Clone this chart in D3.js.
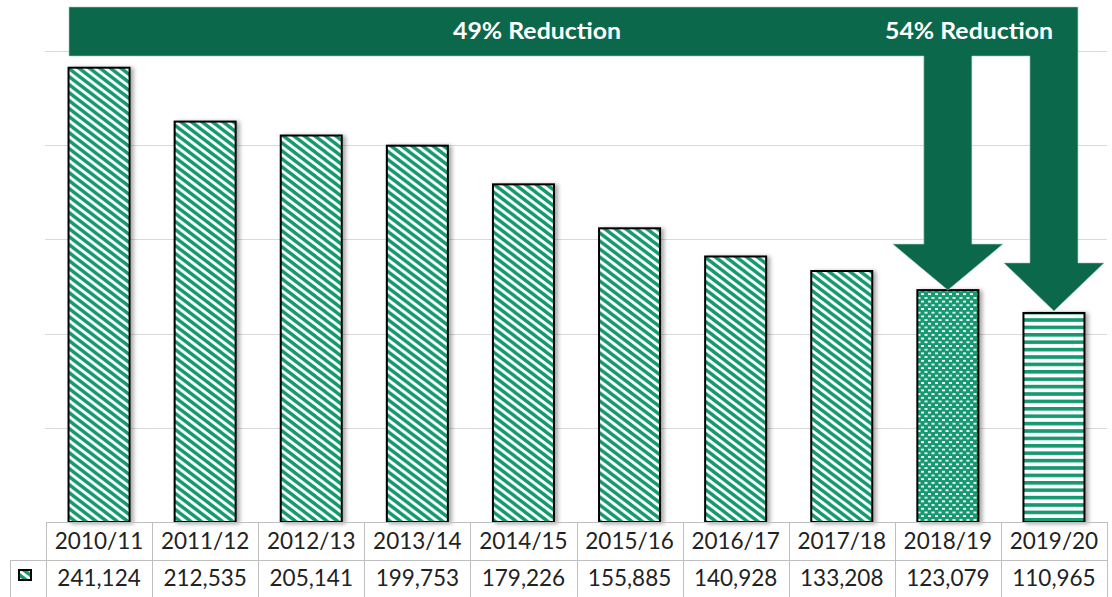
<!DOCTYPE html>
<html lang="en">
<head>
    <meta charset="UTF-8">
    <title>Reduction chart</title>
    <style>
        body { margin: 0; background: #fff; }
        .cell-text { font-family: Lato, "Open Sans", sans-serif; font-size: 22.5px; fill: #222; }
        .banner-text { font-family: Lato, "Open Sans", sans-serif; font-weight: bold; font-size: 23px; fill: #fff; }
    </style>
</head>
<body>
    <svg id="chart" width="1112" height="597"></svg>

    <script src="https://d3js.org/d3.v7.min.js"></script>
    <script>
        // chart data
        const years = ["2010/11", "2011/12", "2012/13", "2013/14", "2014/15", "2015/16", "2016/17", "2017/18", "2018/19", "2019/20"];
        const totals = [241124, 212535, 205141, 199753, 179226, 155885, 140928, 133208, 123079, 110965];
        const gridTicks = [0, 50000, 100000, 150000, 200000, 250000];
        const callouts = ["49% Reduction", "54% Reduction"];

        const svg = d3.select("#chart");
        const green = "#13996f";
        const dark = "#0c684b";

        const x = d3.scaleBand()
            .domain(years)
            .range([46, 1107])
            .paddingInner(0.425)
            .paddingOuter(0.2125);
        const step = x.step();
        const y = d3.scaleLinear().domain([0, 250000]).range([522, 51]);

        const defs = svg.append("defs");

        // wide downward diagonal (stretched sideways like the source)
        const pw = 10.5, ph = 8;
        const diag = defs.append("pattern")
            .attr("id", "diag").attr("patternUnits", "userSpaceOnUse")
            .attr("width", pw).attr("height", ph);
        diag.append("rect").attr("width", pw).attr("height", ph).attr("fill", "#fff");
        diag.append("path")
            .attr("d", [-pw, 0, pw].map(dx => `M${dx - pw},${-ph} L${dx + 2 * pw},${2 * ph}`).join(" "))
            .attr("stroke", green).attr("stroke-width", 3.4);

        // small dotted grid
        const dots = defs.append("pattern")
            .attr("id", "dots").attr("patternUnits", "userSpaceOnUse")
            .attr("width", 7).attr("height", 7.4);
        dots.append("rect").attr("width", 7).attr("height", 7.4).attr("fill", green);
        dots.append("rect").attr("x", 0.5).attr("y", 1).attr("width", 3).attr("height", 1.8).attr("fill", "#fff");
        dots.append("rect").attr("x", 4).attr("y", 4.7).attr("width", 3).attr("height", 1.8).attr("fill", "#fff");

        // wide horizontal
        const horiz = defs.append("pattern")
            .attr("id", "horiz").attr("patternUnits", "userSpaceOnUse")
            .attr("width", 8).attr("height", 7.4);
        horiz.append("rect").attr("width", 8).attr("height", 7.4).attr("fill", "#fff");
        horiz.append("rect").attr("y", 0).attr("width", 8).attr("height", 3.6).attr("fill", green);

        const shadow = defs.append("filter").attr("id", "shadow")
            .attr("x", "-20%").attr("y", "-5%").attr("width", "150%").attr("height", "115%");
        shadow.append("feDropShadow")
            .attr("dx", 3).attr("dy", 1).attr("stdDeviation", 2)
            .attr("flood-color", "#000").attr("flood-opacity", 0.35);

        // gridlines
        svg.append("g")
            .selectAll("line")
            .data(gridTicks.slice(1))
            .join("line")
            .attr("x1", 45).attr("x2", 1107)
            .attr("y1", d => Math.round(y(d)) + 0.5)
            .attr("y2", d => Math.round(y(d)) + 0.5)
            .attr("stroke", "#d9d9d9").attr("stroke-width", 1);

        const fillFor = (d, i) => i === years.length - 1 ? "url(#horiz)" : i === years.length - 2 ? "url(#dots)" : "url(#diag)";

        // bars
        svg.append("g")
            .selectAll("rect")
            .data(totals)
            .join("rect")
            .attr("x", (d, i) => x(years[i]))
            .attr("y", d => y(d))
            .attr("width", x.bandwidth())
            .attr("height", d => y(0) - y(d))
            .attr("fill", fillFor)
            .attr("stroke", "#000")
            .attr("stroke-width", 2)
            .attr("filter", "url(#shadow)");

        // banner + bent arrows down to the last two bars
        const i1 = years.length - 2, i2 = years.length - 1;
        const c1 = x(years[i1]) + x.bandwidth() / 2;
        const c2 = x(years[i2]) + x.bandwidth() / 2;
        const t1 = y(totals[i1]);
        const t2 = y(totals[i2]) - 2;
        const bTop = 7, bBottom = 56, bLeft = 69;
        const sh = 24, hh = 53, hl = 48;
        const arrow = d3.path();
        arrow.moveTo(bLeft, bTop);
        arrow.lineTo(c2 + sh, bTop);
        arrow.lineTo(c2 + sh, t2 - hl);
        arrow.lineTo(c2 + hh - 3, t2 - hl);
        arrow.lineTo(c2, t2);
        arrow.lineTo(c2 - hh + 3, t2 - hl);
        arrow.lineTo(c2 - sh, t2 - hl);
        arrow.lineTo(c2 - sh, bBottom);
        arrow.lineTo(c1 + sh, bBottom);
        arrow.lineTo(c1 + sh, t1 - hl + 2);
        arrow.lineTo(c1 + hh + 2, t1 - hl + 2);
        arrow.lineTo(c1, t1);
        arrow.lineTo(c1 - hh - 2, t1 - hl + 2);
        arrow.lineTo(c1 - sh, t1 - hl + 2);
        arrow.lineTo(c1 - sh, bBottom);
        arrow.lineTo(bLeft, bBottom);
        arrow.closePath();
        svg.append("path")
            .attr("d", arrow.toString())
            .attr("fill", dark)
            .attr("stroke", "#9cc9b8").attr("stroke-width", 0.6);

        svg.append("g")
            .selectAll("text")
            .data(callouts)
            .join("text")
            .attr("class", "banner-text")
            .attr("x", (d, i) => i === 0 ? 537 : 969)
            .attr("y", 39)
            .attr("text-anchor", "middle")
            .attr("textLength", 168)
            .attr("lengthAdjust", "spacingAndGlyphs")
            .text(d => d);

        // data table under the plot
        const table = svg.append("g");
        const line = "#bfbfbf";
        const right = x.range()[1];
        const hline = (x1, x2, yy) => table.append("line")
            .attr("x1", x1).attr("x2", x2).attr("y1", yy + 0.5).attr("y2", yy + 0.5)
            .attr("stroke", line);
        hline(46, right, 522);
        hline(10, right, 560);

        const edges = years.map((d, i) => 46 + i * step).concat([right]);
        table.selectAll("line.v")
            .data(edges)
            .join("line")
            .attr("class", "v")
            .attr("x1", d => Math.round(d) + 0.5).attr("x2", d => Math.round(d) + 0.5)
            .attr("y1", 522).attr("y2", 597)
            .attr("stroke", line);
        table.append("line")
            .attr("x1", 10.5).attr("x2", 10.5).attr("y1", 560).attr("y2", 597)
            .attr("stroke", line);

        table.selectAll("text.year")
            .data(years)
            .join("text")
            .attr("class", "cell-text year")
            .attr("x", d => x(d) + x.bandwidth() / 2)
            .attr("y", 549)
            .attr("text-anchor", "middle")
            .text(d => d);

        table.selectAll("text.val")
            .data(totals)
            .join("text")
            .attr("class", "cell-text val")
            .attr("x", (d, i) => x(years[i]) + x.bandwidth() / 2)
            .attr("y", 586)
            .attr("text-anchor", "middle")
            .text(d => d3.format(",")(d));

        // legend key
        table.append("rect")
            .attr("x", 19).attr("y", 570)
            .attr("width", 12).attr("height", 10)
            .attr("fill", "url(#diag)")
            .attr("stroke", "#000").attr("stroke-width", 2);
    </script>
</body>
</html>
